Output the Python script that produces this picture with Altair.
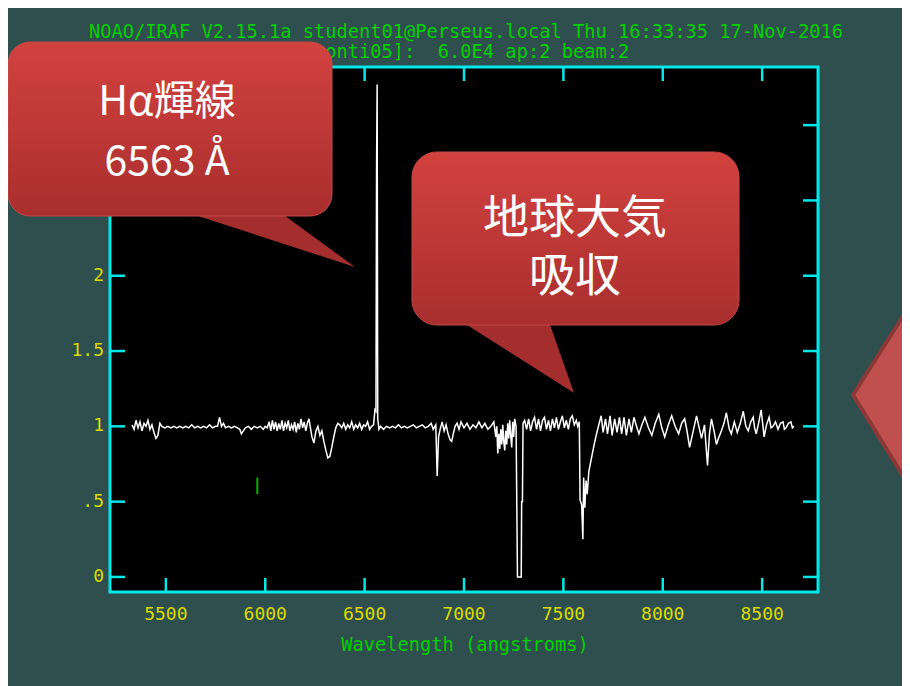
import altair as alt
import pandas as pd

# ---------------- data ----------------
wavelength = [
    5330, 5340, 5350, 5360, 5370, 5380, 5390, 5400, 5410, 5420, 5430, 5440, 5450, 5460, 5470,
    5480, 5495, 5510, 5525, 5540, 5555, 5570, 5585, 5600, 5615, 5630, 5645, 5660, 5675, 5690,
    5705, 5720, 5735, 5750, 5760, 5770, 5780, 5790, 5800, 5815, 5830, 5845, 5860, 5872, 5880,
    5890, 5900, 5915, 5930, 5945, 5960, 5975, 5990, 6000, 6010, 6020, 6028, 6036, 6044, 6052,
    6060, 6068, 6076, 6084, 6092, 6100, 6108, 6116, 6124, 6132, 6140, 6148, 6156, 6164, 6172,
    6180, 6188, 6196, 6204, 6212, 6220, 6235, 6245, 6255, 6265, 6275, 6285, 6295, 6305, 6315,
    6325, 6335, 6345, 6355, 6365, 6375, 6385, 6395, 6405, 6415, 6425, 6435, 6445, 6455, 6465,
    6475, 6485, 6495, 6505, 6515, 6525, 6535, 6545, 6552, 6557, 6560, 6563, 6566, 6572, 6580,
    6595, 6610, 6625, 6640, 6655, 6670, 6685, 6700, 6715, 6730, 6745, 6760, 6775, 6790, 6805,
    6820, 6835, 6845, 6858, 6865, 6872, 6880, 6890, 6900, 6910, 6920, 6930, 6938, 6946, 6955,
    6965, 6975, 6985, 7000, 7015, 7030, 7045, 7060, 7075, 7090, 7105, 7120, 7135, 7150, 7160,
    7165, 7170, 7175, 7180, 7185, 7190, 7195, 7200, 7205, 7210, 7215, 7220, 7225, 7230, 7235,
    7240, 7245, 7250, 7255, 7262, 7269, 7288, 7290, 7294, 7297, 7305, 7315, 7325, 7335, 7345,
    7355, 7365, 7375, 7385, 7395, 7405, 7415, 7425, 7435, 7445, 7455, 7465, 7475, 7485, 7495,
    7505, 7515, 7525, 7535, 7545, 7555, 7565, 7572, 7580, 7584, 7592, 7598, 7602, 7608, 7614,
    7620, 7628, 7640, 7652, 7665, 7680, 7690, 7700, 7712, 7722, 7735, 7745, 7758, 7770, 7782,
    7793, 7805, 7817, 7830, 7842, 7855, 7868, 7880, 7895, 7910, 7928, 7945, 7962, 7980, 7995,
    8010, 8028, 8045, 8062, 8080, 8095, 8110, 8122, 8135, 8150, 8170, 8185, 8195, 8210, 8225,
    8235, 8245, 8258, 8270, 8283, 8295, 8308, 8320, 8335, 8345, 8360, 8375, 8390, 8405, 8418,
    8430, 8443, 8455, 8462, 8470, 8482, 8495, 8510, 8522, 8535, 8545, 8555, 8567, 8580, 8592,
    8605, 8612, 8620, 8632, 8645, 8652, 8660,
]
flux = [
    1.01, 0.98, 1.04, 0.99, 1.03, 0.97, 1.02, 1.00, 1.04, 0.98, 1.01, 0.96, 0.92, 0.94, 1.02,
    1.00, 0.99, 1.00, 0.99, 1.00, 0.99, 1.00, 0.99, 1.00, 0.99, 1.01, 0.99, 1.00, 0.99, 1.00,
    0.99, 1.01, 0.99, 1.00, 1.00, 1.06, 1.00, 1.02, 0.99, 1.00, 0.99, 1.00, 0.99, 0.98, 0.95,
    0.97, 0.99, 1.00, 0.98, 1.00, 0.99, 1.00, 0.98, 1.00, 0.99, 1.03, 0.97, 1.04, 0.98, 1.03,
    0.97, 1.02, 0.98, 1.04, 0.97, 1.02, 0.99, 1.04, 0.97, 1.01, 0.98, 1.03, 0.96, 1.02, 0.98,
    1.05, 0.99, 1.03, 0.97, 1.02, 1.05, 0.93, 0.89, 0.97, 1.00, 0.94, 0.97, 0.90, 0.84, 0.79,
    0.80, 0.86, 0.93, 0.99, 1.02, 1.01, 0.99, 1.02, 0.98, 1.01, 0.99, 1.03, 0.98, 1.01, 0.99,
    1.02, 0.98, 1.01, 1.00, 1.03, 0.98, 1.00, 1.01, 1.11, 1.10, 2.70, 3.27, 1.05, 0.98, 1.00,
    0.98, 1.00, 0.99, 1.00, 0.99, 1.01, 0.99, 1.00, 0.99, 1.00, 1.01, 0.99, 1.00, 1.01, 0.99,
    1.00, 1.02, 0.98, 1.01, 0.67, 0.93, 0.98, 1.03, 0.97, 1.01, 0.95, 0.91, 0.90, 0.95, 1.00,
    1.02, 0.98, 1.03, 0.99, 1.02, 0.98, 1.01, 0.99, 1.03, 0.99, 1.02, 0.98, 1.00, 1.03, 0.93,
    1.00, 0.82, 0.95, 0.85, 0.98, 0.88, 1.01, 0.90, 0.84, 0.97, 0.88, 1.02, 0.92, 1.04, 0.94,
    0.86, 1.03, 0.93, 1.05, 1.00, 0.00, 0.00, 0.50, 0.50, 1.02, 1.04, 0.98, 1.05, 0.97, 1.03,
    1.06, 0.98, 1.05, 0.97, 1.04, 1.06, 0.98, 1.04, 0.97, 1.05, 0.99, 1.06, 0.98, 1.03, 1.07,
    0.99, 1.04, 0.98, 1.05, 1.07, 1.01, 1.04, 1.00, 1.03, 0.51, 0.48, 0.25, 0.66, 0.46, 0.64,
    0.55, 0.70, 0.78, 0.86, 0.94, 1.02, 1.07, 0.96, 1.05, 0.95, 1.07, 0.94, 1.05, 0.96, 1.06,
    0.95, 1.06, 0.94, 1.05, 0.96, 1.06, 1.00, 0.95, 1.01, 1.06, 0.99, 0.94, 1.02, 1.08, 0.99,
    0.93, 1.01, 1.07, 1.00, 0.95, 1.02, 1.05, 0.97, 0.86, 0.95, 1.07, 0.98, 0.92, 1.01, 0.74,
    0.95, 1.05, 0.97, 0.88, 0.93, 0.97, 1.02, 1.09, 0.98, 0.95, 1.03, 0.96, 1.02, 1.10, 1.00,
    0.97, 1.03, 1.06, 0.99, 0.95, 1.02, 1.11, 0.93, 1.01, 1.06, 0.99, 1.00, 1.03, 0.98, 1.02,
    1.03, 0.98, 0.99, 1.02, 1.03, 0.99, 1.00,
]
assert len(wavelength) == len(flux)

x_ticks = [5500, 6000, 6500, 7000, 7500, 8000, 8500]
x_tick_labels = ["5500", "6000", "6500", "7000", "7500", "8000", "8500"]
y_ticks = [0, 0.5, 1, 1.5, 2, 2.5, 3]
y_tick_labels = ["0", ".5", "1", "1.5", "2", "2.5", "3"]

marker_wl = [5960]
marker_lo = [0.55]
marker_hi = [0.66]

title_line1 = ["NOAO/IRAF V2.15.1a student01@Perseus.local Thu 16:33:35 17-Nov-2016"]
title_line2 = ["[conti05]:\u00a0\u00a06.0E4 ap:2 beam:2"]
x_title = ["Wavelength (angstroms)"]
callout1_lines = ["Hα輝線", "6563 Å"]
callout2_lines = ["地球大気", "吸収"]

# ---------------- styling ----------------
W, H = 708, 525
BG = "#2F4F4F"
CYAN = "#00E8E8"
YELLOW = "#DADA00"
GREEN = "#00D000"
MONO = "DejaVu Sans Mono"
CJK = "Noto Sans CJK JP"
XS = alt.Scale(domain=[5219, 8781], nice=False, zero=False)
YS = alt.Scale(domain=[-0.1, 3.386], nice=False, zero=False)

one = pd.DataFrame({"k": [0]})

spec = alt.Chart(pd.DataFrame({"wl": wavelength, "flux": flux})).mark_line(
    color="white", strokeWidth=1.5
).encode(
    x=alt.X("wl:Q", scale=XS, axis=None),
    y=alt.Y("flux:Q", scale=YS, axis=None),
)

marker = alt.Chart(pd.DataFrame({"wl": marker_wl, "lo": marker_lo, "hi": marker_hi})).mark_rule(
    color="#00B000", strokeWidth=2
).encode(
    x=alt.X("wl:Q", scale=XS, axis=None),
    y=alt.Y("lo:Q", scale=YS, axis=None),
    y2="hi:Q",
)

xt = pd.DataFrame({"t": x_ticks, "label": x_tick_labels})
yt = pd.DataFrame({"t": y_ticks, "label": y_tick_labels})

tick_style = dict(color=CYAN, strokeWidth=2.5)
bottom_ticks = alt.Chart(xt).mark_rule(**tick_style).encode(
    x=alt.X("t:Q", scale=XS, axis=None), y=alt.value(H), y2=alt.value(H - 14))
top_ticks = alt.Chart(xt).mark_rule(**tick_style).encode(
    x=alt.X("t:Q", scale=XS, axis=None), y=alt.value(0), y2=alt.value(14))
left_ticks = alt.Chart(yt).mark_rule(**tick_style).encode(
    y=alt.Y("t:Q", scale=YS, axis=None), x=alt.value(0), x2=alt.value(15))
right_ticks = alt.Chart(yt).mark_rule(**tick_style).encode(
    y=alt.Y("t:Q", scale=YS, axis=None), x=alt.value(W), x2=alt.value(W - 15))

x_labels = alt.Chart(xt).mark_text(
    color=YELLOW, font=MONO, fontSize=18, baseline="middle"
).encode(x=alt.X("t:Q", scale=XS, axis=None), y=alt.value(H + 23), text="label:N")
y_labels = alt.Chart(yt).mark_text(
    color=YELLOW, font=MONO, fontSize=18, baseline="middle", align="right"
).encode(y=alt.Y("t:Q", scale=YS, axis=None), x=alt.value(-6), text="label:N")

def text_layer(lines, x, y, **kw):
    return alt.Chart(pd.DataFrame({"s": lines})).mark_text(**kw).encode(
        x=alt.value(x), y=alt.value(y), text="s:N")

t1 = text_layer(title_line1, 356, -35, color=GREEN, font=MONO, fontSize=18.7, baseline="middle")
t2 = text_layer(title_line2, 356, -15, color=GREEN, font=MONO, fontSize=18.7, baseline="middle")
xtitle = text_layer(x_title, 355, 578, color=GREEN, font=MONO, fontSize=18.7, baseline="middle")

grad = alt.Gradient(
    gradient="linear",
    stops=[alt.GradientStop(color="#D2423F", offset=0),
           alt.GradientStop(color="#A92E2E", offset=1)],
    x1=0, x2=0, y1=0, y2=1,
)

def box(x, x2, y, y2, r):
    return alt.Chart(one).mark_rect(
        cornerRadius=r, fill=grad, stroke="#C04844", strokeWidth=1
    ).encode(x=alt.value(x), x2=alt.value(x2), y=alt.value(y), y2=alt.value(y2))

def shape(path, x, y, fill, stroke=None, sw=0):
    kw = dict(shape=path, size=4, filled=True, fill=fill, opacity=1)
    if stroke:
        kw.update(stroke=stroke, strokeWidth=sw)
    else:
        kw.update(strokeWidth=0)
    return alt.Chart(one).mark_point(**kw).encode(x=alt.value(x), y=alt.value(y))

right_arrow = shape("M0,0 L57,-90 L57,92 Z", 743, 328, "#C0504D", "#8C3836", 4)

tail1 = shape("M0,-6 L79,-6 L157,51 L0,0 Z", 88, 149, "#A42D2D")
box1 = box(-102, 222, -25, 149, 22)
c1a = text_layer([callout1_lines[0]], 57, 48, color="white", font=CJK, fontSize=41, align="center", baseline="alphabetic")
c1b = text_layer([callout1_lines[1]], 57, 108, color="white", font=CJK, fontSize=41, align="center", baseline="alphabetic")

tail2 = shape("M0,-6 L81,-6 L107,68 L0,0 Z", 357, 258, "#A42D2D")
box2 = box(302, 629, 85, 258, 25)
c2a = text_layer([callout2_lines[0]], 465, 166, color="white", font=CJK, fontSize=46, align="center", baseline="alphabetic")
c2b = text_layer([callout2_lines[1]], 465, 224, color="white", font=CJK, fontSize=46, align="center", baseline="alphabetic")

chart = alt.layer(
    spec, marker, bottom_ticks, top_ticks, left_ticks, right_ticks,
    x_labels, y_labels, t1, t2, xtitle,
    right_arrow, tail1, box1, c1a, c1b, tail2, box2, c2a, c2b,
).properties(
    width=W, height=H,
    padding={"left": 102, "top": 59, "right": 84, "bottom": 94},
    autosize=alt.AutoSizeParams(type="none"),
    background=BG,
).configure_view(
    fill="black", stroke=CYAN, strokeWidth=3
)

chart.save("out.html", embed_options={"renderer": "svg", "actions": False})
